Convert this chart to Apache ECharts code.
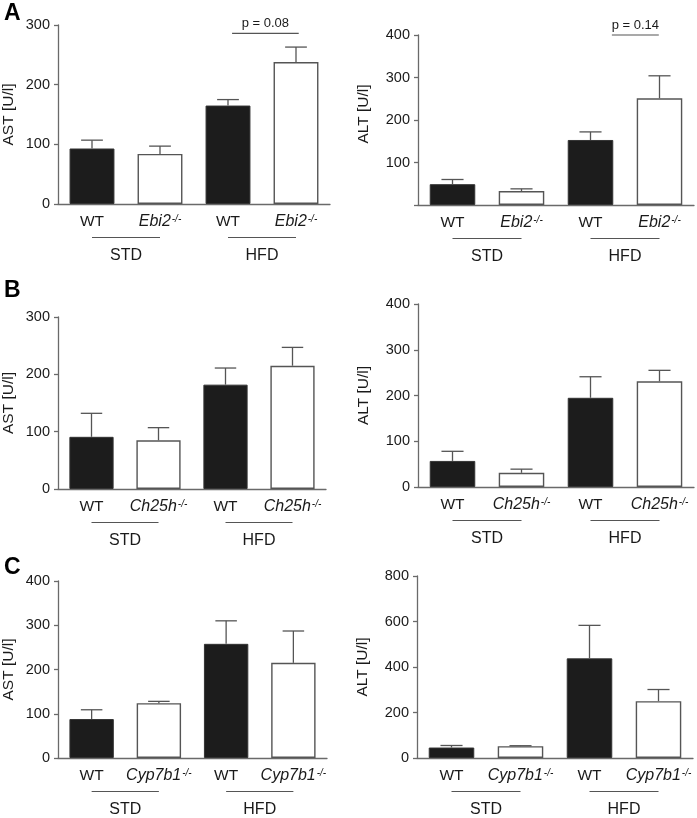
<!DOCTYPE html>
<html>
<head>
<meta charset="utf-8">
<script src="https://cdn.jsdelivr.net/npm/echarts@6/dist/echarts.min.js"></script>
<style>html,body{margin:0;padding:0;background:#fff;}#c{width:697px;height:818px;}</style>
</head>
<body>
<div id="c"></div>
<script>
// ---- data ----
const koNames = ['Ebi2', 'Ch25h', 'Cyp7b1'];
const groupNames = ['STD', 'HFD'];
const panelLetters = ['A', 'B', 'C'];
const yNames = ['AST [U/l]', 'ALT [U/l]'];

const astA = [93, 84, 165, 238];
const astAErr = [14, 13, 10, 25];
const altA = [49, 33, 153, 251];
const altAErr = [11, 5, 19, 53];
const astB = [91, 85, 182, 215];
const astBErr = [41, 22, 29, 32];
const altB = [57, 31, 195, 231];
const altBErr = [21, 8, 46, 24];
const astC = [88, 124, 258, 215];
const astCErr = [21, 4, 52, 72];
const altC = [46, 52, 438, 250];
const altCErr = [9, 2, 145, 51];

const yMax = [300, 400, 300, 400, 400, 800];
const yInterval = [100, 100, 100, 100, 100, 200];

const pLabels = ['p = 0.08', 'p = 0.14'];
const pLevels = [286, 400];
const pFrom = [2.06, 2.31];
const pTo = [3.04, 2.99];

// ---- layout ----
const grids = [
  {left: 58, top: 25, width: 272, height: 179},
  {left: 418, top: 35, width: 276, height: 170},
  {left: 57, top: 317, width: 269, height: 172},
  {left: 418, top: 304, width: 276, height: 183},
  {left: 57, top: 581, width: 270, height: 177},
  {left: 417, top: 576, width: 276, height: 182}
];
const means = [astA, altA, astB, altB, astC, altC];
const errs = [astAErr, altAErr, astBErr, altBErr, astCErr, altCErr];

const FONT = 'Liberation Sans, Arial, sans-serif';
const AXIS_COLOR = '#6a6a6a';
const TEXT_COLOR = '#1a1a1a';
const BAR_BLACK = '#1c1c1c';

const option = {
  animation: false,
  backgroundColor: '#fff',
  textStyle: {fontFamily: FONT},
  grid: grids.map(g => Object.assign({containLabel: false}, g)),
  xAxis: [],
  yAxis: [],
  series: [],
  graphic: []
};

for (let p = 0; p < 6; p++) {
  const row = Math.floor(p / 2);
  const ko = koNames[row];
  const cats = ['WT', ko, 'WT', ko];
  option.xAxis.push({
    type: 'category', gridIndex: p, data: cats,
    axisLine: {lineStyle: {color: AXIS_COLOR, width: 1.3}},
    axisTick: {show: false},
    axisLabel: {
      interval: 0, hideOverlap: false,
      margin: 10, color: TEXT_COLOR, fontFamily: FONT, fontSize: 15,
      formatter: v => v === 'WT' ? '{n|WT}' : '{i|' + v + '}{s|-/-}',
      rich: {
        n: {fontSize: 15.5, color: TEXT_COLOR, fontFamily: FONT},
        i: {fontSize: 16, fontStyle: 'italic', color: TEXT_COLOR, fontFamily: FONT},
        s: {fontSize: 10, fontStyle: 'italic', color: TEXT_COLOR, fontFamily: FONT, verticalAlign: 'top', padding: [0, 0, 6, 1]}
      }
    }
  });
  option.yAxis.push({
    type: 'value', gridIndex: p, min: 0, max: yMax[p], interval: yInterval[p],
    name: yNames[p % 2], nameLocation: 'middle', nameGap: p % 2 === 0 ? 41 : 46,
    nameTextStyle: {fontSize: 15.5, color: TEXT_COLOR, fontFamily: FONT,
      padding: p === 1 ? [0, 0, 0, 12] : 0},
    axisLine: {show: true, lineStyle: {color: AXIS_COLOR, width: 1.3}},
    axisTick: {show: true, length: 4, lineStyle: {color: AXIS_COLOR, width: 1.3}},
    splitLine: {show: false},
    axisLabel: {
      margin: 8, color: TEXT_COLOR, fontSize: 14.5, fontFamily: FONT,
      formatter: v => (p === 1 && v === 0) ? '' : String(v)
    }
  });
  option.series.push({
    type: 'bar', xAxisIndex: p, yAxisIndex: p, barWidth: '66%',
    data: means[p].map((v, i) => ({
      value: v,
      itemStyle: i % 2 === 0
        ? {color: BAR_BLACK, borderColor: '#333', borderWidth: 1}
        : {color: '#ffffff', borderColor: '#555', borderWidth: 1.4}
    })),
    z: 2
  });
  const m = means[p], e = errs[p];
  option.series.push({
    type: 'custom', xAxisIndex: p, yAxisIndex: p, clip: false, z: 3,
    data: m.map((v, i) => [i, v, e[i]]),
    renderItem: (params, api) => {
      const x = api.value(0), mv = api.value(1), ev = api.value(2);
      const p0 = api.coord([x, mv]);
      const p1 = api.coord([x, mv + ev]);
      const half = api.size([1, 0])[0] * 0.16;
      const st = {stroke: '#555', lineWidth: 1.3};
      return {type: 'group', children: [
        {type: 'line', shape: {x1: p0[0], y1: p0[1], x2: p1[0], y2: p1[1]}, style: st},
        {type: 'line', shape: {x1: p1[0] - half, y1: p1[1], x2: p1[0] + half, y2: p1[1]}, style: st}
      ]};
    }
  });
  // group labels (STD / HFD) with lines
  option.series.push({
    type: 'custom', xAxisIndex: p, yAxisIndex: p, clip: false, z: 3, silent: true,
    data: [[0, 1], [2, 3]],
    renderItem: (params, api) => {
      const a = api.coord([api.value(0), 0]);
      const b = api.coord([api.value(1), 0]);
      const y = a[1] + 33.5;
      return {type: 'group', children: [
        {type: 'line', shape: {x1: a[0], y1: y, x2: b[0], y2: y}, style: {stroke: '#555', lineWidth: 1.2}},
        {type: 'text', x: (a[0] + b[0]) / 2, y: a[1] + 51.5,
         style: {text: groupNames[params.dataIndex], fill: TEXT_COLOR, font: '16px ' + FONT, align: 'center', verticalAlign: 'middle'}}
      ]};
    }
  });
  if (p < 2) {
    option.series.push({
      type: 'custom', xAxisIndex: p, yAxisIndex: p, clip: false, z: 3, silent: true,
      data: [[Math.floor(pFrom[p]), pLevels[p]]],
      renderItem: (params, api) => {
        const base = api.coord([0, pLevels[p]]);
        const bw = api.size([1, 0])[0];
        const x1 = base[0] + pFrom[p] * bw;
        const x2 = base[0] + pTo[p] * bw;
        const y = base[1];
        return {type: 'group', children: [
          {type: 'line', shape: {x1: x1, y1: y, x2: x2, y2: y}, style: {stroke: '#555', lineWidth: 1.2}},
          {type: 'text', x: (x1 + x2) / 2, y: y - 10,
           style: {text: pLabels[p], fill: TEXT_COLOR, font: '13px ' + FONT, align: 'center', verticalAlign: 'middle'}}
        ]};
      }
    });
  }
}

const letterY = [13, 290, 567];
panelLetters.forEach((L, i) => {
  option.graphic.push({
    type: 'text', left: 4, top: letterY[i] - 11,
    style: {text: L, font: 'bold 23px ' + FONT, fill: '#000'}
  });
});

const chart = echarts.init(document.getElementById('c'), null, {renderer: 'canvas'});
chart.setOption(option);
</script>
</body>
</html>
